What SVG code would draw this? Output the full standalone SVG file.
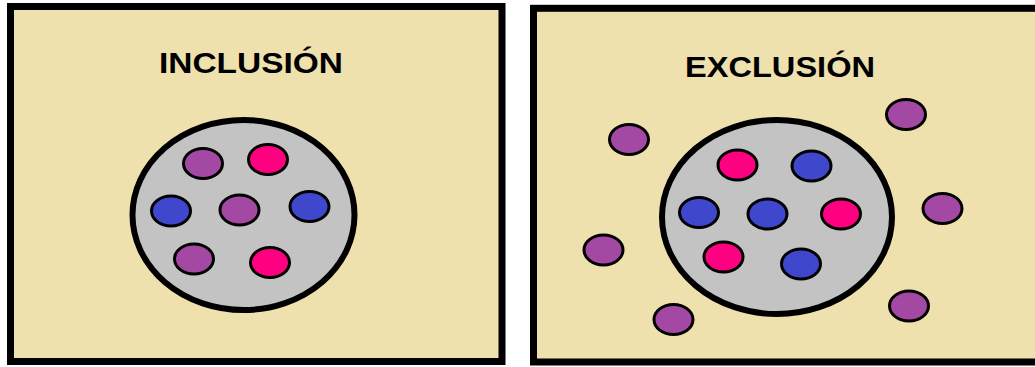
<svg xmlns="http://www.w3.org/2000/svg" width="1035" height="367" viewBox="0 0 1035 367">
<style>
.panel{fill:#EFE1AD;stroke:#000;stroke-width:7}
.set{fill:#C3C3C3;stroke:#000;stroke-width:6}
.dot{stroke:#000;stroke-width:3}
.p{fill:#A349A4}
.r{fill:#FF0080}
.b{fill:#3F48CC}
.title{font-family:"Liberation Sans",Arial,sans-serif;font-weight:bold;font-size:29px;fill:#000}
</style>
<rect width="1035" height="367" fill="#FFFFFF"/>
<g id="inclusion">
<rect class="panel" x="10.5" y="6.5" width="491.5" height="355"/>
<text class="title" x="159" y="73" textLength="184" lengthAdjust="spacingAndGlyphs">INCLUSIÓN</text>
<ellipse class="set" cx="243.5" cy="215" rx="111" ry="95"/>
<ellipse class="dot p" cx="203" cy="163.5" rx="19.5" ry="15"/>
<ellipse class="dot r" cx="268" cy="159.5" rx="19.5" ry="15"/>
<ellipse class="dot b" cx="171" cy="211" rx="19.5" ry="15"/>
<ellipse class="dot p" cx="239.5" cy="210" rx="19.5" ry="15"/>
<ellipse class="dot b" cx="309.5" cy="206.5" rx="19.5" ry="15"/>
<ellipse class="dot p" cx="194" cy="259" rx="19.5" ry="15"/>
<ellipse class="dot r" cx="270" cy="262.5" rx="19.5" ry="15"/>
</g>
<g id="exclusion">
<rect class="panel" x="533.5" y="8.3" width="520" height="353.7"/>
<text class="title" x="685" y="77" textLength="190" lengthAdjust="spacingAndGlyphs">EXCLUSIÓN</text>
<ellipse class="set" cx="777" cy="217" rx="115" ry="97"/>
<ellipse class="dot r" cx="737.5" cy="165" rx="19.5" ry="15"/>
<ellipse class="dot b" cx="811.5" cy="166" rx="19.5" ry="15"/>
<ellipse class="dot b" cx="699" cy="212.5" rx="19.5" ry="15"/>
<ellipse class="dot b" cx="767.5" cy="214" rx="19.5" ry="15"/>
<ellipse class="dot r" cx="841" cy="214" rx="19.5" ry="15"/>
<ellipse class="dot r" cx="723.5" cy="257" rx="19.5" ry="15"/>
<ellipse class="dot b" cx="801" cy="264" rx="19.5" ry="15"/>
<ellipse class="dot p" cx="629" cy="139.5" rx="19.5" ry="15"/>
<ellipse class="dot p" cx="906" cy="114.5" rx="19.5" ry="15"/>
<ellipse class="dot p" cx="942.5" cy="208.5" rx="19.5" ry="15"/>
<ellipse class="dot p" cx="603.5" cy="250" rx="19.5" ry="15"/>
<ellipse class="dot p" cx="673.5" cy="319.5" rx="19.5" ry="15"/>
<ellipse class="dot p" cx="909" cy="306" rx="19.5" ry="15"/>
</g>
<g id="connectors"/>
</svg>
